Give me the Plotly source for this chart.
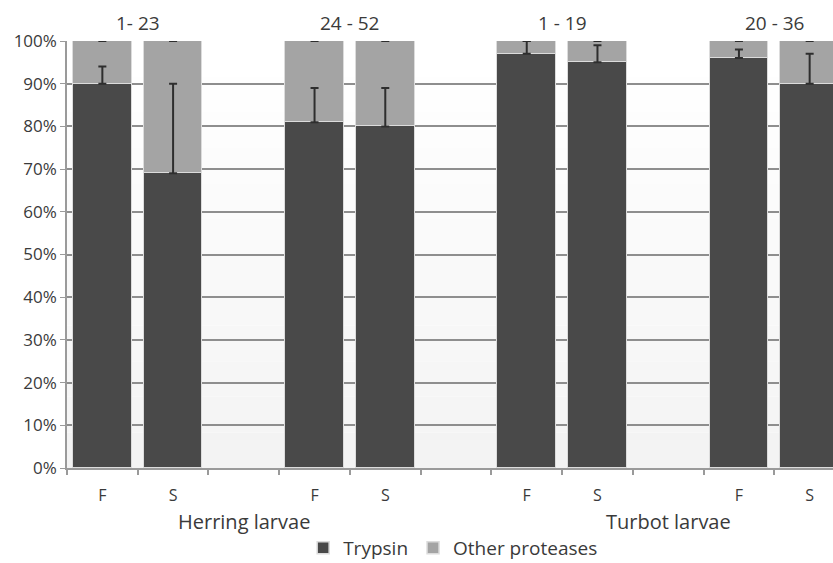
import plotly.graph_objects as go

# ---- data ----
categories = ["F", "S", "", "F", "S", "", "F", "S", "", "F", "S"]
trypsin = [90, 69, None, 81, 80, None, 97, 95, None, 96, 90]
other = [10, 31, None, 19, 20, None, 3, 5, None, 4, 10]
trypsin_sd = [4, 21, None, 8, 9, None, 3, 4, None, 2, 7]
group_labels = ["1- 23", "24 - 52", "1 - 19", "20 - 36"]
group_pos = [0.5, 3.5, 6.5, 9.5]
species_labels = ["Herring larvae", "Turbot larvae"]
species_pos = [2, 8]

x = list(range(len(categories)))
FONT = "Open Sans"
TXT = "#3a3a3a"

fig = go.Figure()

# subtle vertical gradient background
n = 12
for i in range(n):
    g = 255 - int(12 * (n - 1 - i) / (n - 1))
    fig.add_shape(type="rect", xref="paper", yref="paper",
                  x0=0, x1=1, y0=i / n, y1=(i + 1) / n,
                  fillcolor=f"rgb({g},{g},{g})", line=dict(width=0), layer="below")

fig.add_trace(go.Bar(x=x, y=trypsin, name="Trypsin", width=0.83,
                     marker=dict(color="#494949", line=dict(color="#dcdcdc", width=1.5))))
fig.add_trace(go.Bar(x=x, y=other, name="Other proteases", width=0.83,
                     marker=dict(color="#a4a4a4", line=dict(color="#dcdcdc", width=1.5))))

# error bars (upward) on trypsin
fig.add_trace(go.Scatter(x=x, y=trypsin, mode="markers", showlegend=False,
                         marker=dict(size=1, color="rgba(0,0,0,0)"),
                         error_y=dict(type="data", symmetric=False, array=trypsin_sd,
                                      arrayminus=[0 if v is not None else None for v in trypsin_sd],
                                      color="#2e2e2e", thickness=2, width=4),
                         hoverinfo="skip"))
# zero-length caps at top of stack
tops = [None if t is None else t + o for t, o in zip(trypsin, other)]
fig.add_trace(go.Scatter(x=x, y=tops, mode="markers", showlegend=False,
                         marker=dict(size=1, color="rgba(0,0,0,0)"),
                         error_y=dict(type="data", array=[0 if t is not None else None for t in tops],
                                      color="#2e2e2e", thickness=2, width=4),
                         hoverinfo="skip"))

for lab, p in zip(group_labels, group_pos):
    fig.add_annotation(x=p, y=1.0, xref="x", yref="paper", yshift=18, yanchor="middle",
                       text=lab, showarrow=False, font=dict(family=FONT, size=19, color=TXT))
for lab, p in zip(species_labels, species_pos):
    fig.add_annotation(x=p, y=0, xref="x", yref="paper", yshift=-53, yanchor="middle",
                       text=lab, showarrow=False, font=dict(family=FONT, size=20, color=TXT))

fig.update_layout(
    width=833, height=563,
    margin=dict(l=67, r=0, t=41, b=95, autoexpand=False),
    barmode="stack",
    paper_bgcolor="white",
    plot_bgcolor="rgba(0,0,0,0)",
    font=dict(family=FONT, size=16, color=TXT),
    showlegend=True,
    legend=dict(orientation="h", x=0.544, xref="container", xanchor="center",
                y=0.027, yref="container", yanchor="middle",
                font=dict(family=FONT, size=19, color=TXT),
                traceorder="normal", itemwidth=30),
    bargap=0,
)
fig.update_xaxes(range=[-0.5, 10.33], tickmode="array", tickvals=x, ticktext=categories,
                 ticks="", showgrid=False, zeroline=False, automargin=False,
                 showline=True, linecolor="#9a9a9a", linewidth=1.5,
                 tickfont=dict(family=FONT, size=16, color=TXT), ticklabelstandoff=12,
                 minor=dict(tickmode="linear", tick0=-0.5, dtick=1, ticks="outside",
                            ticklen=5, tickcolor="#9a9a9a", tickwidth=1.5, showgrid=False))
fig.update_yaxes(range=[0, 100], dtick=10, ticksuffix="%", showgrid=True,
                 gridcolor="#8e8e8e", gridwidth=2, zeroline=False, automargin=False,
                 showline=True, linecolor="#9a9a9a", linewidth=1.5,
                 ticks="outside", ticklen=5, tickcolor="#9a9a9a",
                 tickfont=dict(family=FONT, size=17, color=TXT))

fig.write_html("out.html", config={"displayModeBar": False},
               post_script="document.body.style.margin='0';document.body.style.overflow='hidden';window.dispatchEvent(new Event('resize'));")
